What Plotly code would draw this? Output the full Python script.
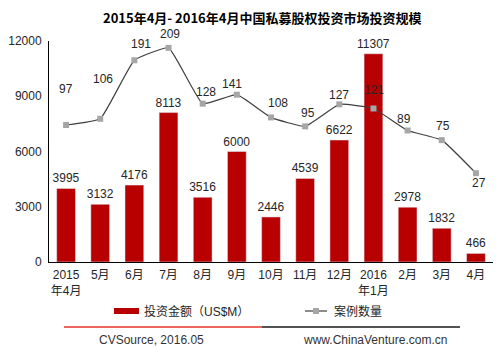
import plotly.graph_objects as go

categories = ["2015<br>年4月", "5月", "6月", "7月", "8月", "9月", "10月", "11月", "12月",
              "2016<br>年1月", "2月", "3月", "4月"]
amounts = [3995, 3132, 4176, 8113, 3516, 6000, 2446, 4539, 6622, 11307, 2978, 1832, 466]
deals = [97, 106, 191, 209, 128, 141, 108, 95, 127, 121, 89, 75, 27]
left_ticks = [0, 3000, 6000, 9000, 12000]
left_tick_text = ["0", "3000", "6000", "9000", "12000"]

# label offsets for the deal-count labels (pixels), style only
label_dx = [0, 3, 7, 1, 3, -5, 7, 3, 0, 1, -4, 1, 3]
label_dy = [36, 40, 16, 14, 12, 11, 14, 13, 9, 18, 12, 14, -10]

FONT = "Liberation Sans, Arial, Noto Sans CJK SC, sans-serif"
CJK = "Noto Sans CJK SC, Liberation Sans, sans-serif"
RED = "#B90000"
x = list(range(len(categories)))

# the page body has an 8px margin; figure coords = screen coords - 8
OFF = 8
W, H = 485, 339
L, T, B = 49 - OFF, 41 - OFF, H - (262 - OFF)
R = W - (493 - OFF)
PW, PH = W - L - R, H - T - B

fig = go.Figure()
fig.add_trace(go.Bar(
    x=x, y=amounts, marker_color=RED, name="投资金额（US$M）",
    text=[str(v) for v in amounts], textposition="outside", constraintext="none",
    textfont=dict(size=12, color="#262626", family=FONT),
    cliponaxis=False, showlegend=False,
))
fig.add_trace(go.Scatter(
    x=x, y=deals, yaxis="y2", mode="lines+markers", name="案例数量",
    line=dict(color="#404040", width=1.2, shape="spline", smoothing=0.35),
    marker=dict(symbol="square", size=6, color="#A6A6A6"),
    showlegend=False, cliponaxis=False,
))

annotations = []
for i, v in enumerate(deals):
    annotations.append(dict(
        x=i, y=v, xref="x", yref="y2", text=str(v), showarrow=False,
        xshift=label_dx[i], yshift=label_dy[i],
        font=dict(size=12, color="#262626", family=FONT),
    ))

def px(xs):
    return (xs - OFF - L) / PW

def py(ys):
    return 1 - (ys - OFF - T) / PH

annotations.append(dict(x=px(142), y=py(311), xref="paper", yref="paper",
                        text="投资金额（US$M）", showarrow=False, xanchor="left", yanchor="middle",
                        font=dict(size=12, color="#262626", family=FONT)))
annotations.append(dict(x=px(332), y=py(311), xref="paper", yref="paper",
                        text="案例数量", showarrow=False, xanchor="left", yanchor="middle",
                        font=dict(size=12, color="#262626", family=FONT)))
annotations.append(dict(x=px(151), y=py(340), xref="paper", yref="paper",
                        text="CVSource, 2016.05", showarrow=False, xanchor="center", yanchor="middle",
                        font=dict(size=12, color="#333333", family=FONT)))
annotations.append(dict(x=px(375), y=py(340), xref="paper", yref="paper",
                        text="www.ChinaVenture.com.cn", showarrow=False, xanchor="center", yanchor="middle",
                        font=dict(size=12, color="#333333", family=FONT)))
annotations.append(dict(x=px(262), y=py(18), xref="paper", yref="paper",
                        text="<b>2015年4月- 2016年4月中国私募股权投资市场投资规模</b>",
                        showarrow=False, xanchor="center", yanchor="middle",
                        font=dict(size=13, color="#000000", family=CJK)))

shapes = [
    dict(type="rect", xref="paper", yref="paper", x0=px(114), x1=px(139), y0=py(314), y1=py(308),
         fillcolor=RED, line=dict(width=0)),
    dict(type="line", xref="paper", yref="paper", x0=px(305), x1=px(327), y0=py(311), y1=py(311),
         line=dict(color="#404040", width=1.2)),
    dict(type="rect", xref="paper", yref="paper", x0=px(313), x1=px(319), y0=py(314), y1=py(308),
         fillcolor="#A6A6A6", line=dict(width=0)),
    dict(type="line", xref="paper", yref="paper", x0=px(64), x1=px(262), y0=py(327), y1=py(327),
         line=dict(color="#E8322A", width=1.5)),
    dict(type="line", xref="paper", yref="paper", x0=px(262), x1=px(460), y0=py(327), y1=py(327),
         line=dict(color="#1A1A1A", width=1.5)),
]

fig.update_layout(
    width=W, height=H,
    margin=dict(l=L, r=R, t=T, b=B, autoexpand=False),
    paper_bgcolor="white", plot_bgcolor="white",
    bargap=0.45,
    showlegend=False,
    xaxis=dict(tickmode="array", tickvals=x, ticktext=categories, range=[-0.5, 12.5],
               showline=True, linecolor="#000000", linewidth=1,
               ticks="outside", ticklen=2, tickcolor="rgba(0,0,0,0)", showgrid=False,
               automargin=False,
               tickfont=dict(size=12, color="#262626", family=FONT)),
    yaxis=dict(range=[0, 12000], tickmode="array", tickvals=left_ticks, ticktext=left_tick_text,
               showline=True, linecolor="#000000", automargin=False, linewidth=1,
               ticks="outside", ticklen=4, tickcolor="rgba(0,0,0,0)",
               showgrid=False, zeroline=False,
               tickfont=dict(size=12, color="#262626", family=FONT)),
    yaxis2=dict(range=[-102, 219], overlaying="y", side="right", visible=False, automargin=False),
    annotations=annotations,
    shapes=shapes,
)

fig.write_html("out.html")
